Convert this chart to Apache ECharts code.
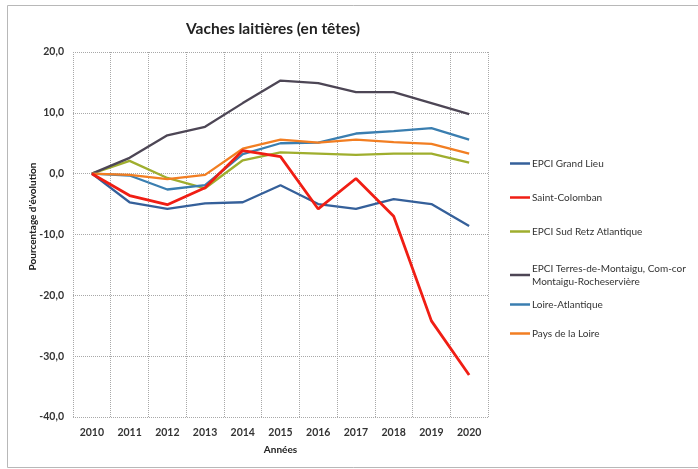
<!DOCTYPE html>
<html>
<head>
<meta charset="utf-8">
<script src="https://cdn.jsdelivr.net/npm/echarts@6/dist/echarts.min.js"></script>
<style>html,body{margin:0;padding:0;background:#fff}#c{width:698px;height:469px}</style>
</head>
<body>
<div id="c"></div>
<script>
var years = ['2010','2011','2012','2013','2014','2015','2016','2017','2018','2019','2020'];
var grandLieu = [0, -4.7, -5.8, -4.9, -4.7, -1.9, -5.0, -5.8, -4.2, -5.0, -8.6];
var saintColomban = [0, -3.6, -5.1, -2.3, 3.8, 2.8, -5.8, -0.8, -7.0, -24.2, -33.1];
var sudRetz = [0, 2.1, -0.7, -2.4, 2.2, 3.5, 3.3, 3.1, 3.3, 3.3, 1.8];
var terresMontaigu = [0, 2.6, 6.3, 7.7, 11.6, 15.3, 14.9, 13.4, 13.4, 11.6, 9.8];
var loireAtlantique = [0, -0.3, -2.6, -1.9, 3.2, 5.0, 5.1, 6.6, 7.0, 7.5, 5.6];
var paysLoire = [0, -0.2, -0.9, -0.2, 4.1, 5.6, 5.1, 5.6, 5.2, 4.9, 3.3];
var yTicks = [20, 10, 0, -10, -20, -30, -40];

var names = ['EPCI Grand Lieu','Saint-Colomban','EPCI Sud Retz Atlantique','EPCI Terres-de-Montaigu, Com-cor\nMontaigu-Rocheservière','Loire-Atlantique','Pays de la Loire'];
var datas = [grandLieu, saintColomban, sudRetz, terresMontaigu, loireAtlantique, paysLoire];
var colors = ['#35609a','#f01e14','#9fae2e','#4d4655','#3a7eb0','#f27e22'];
var widths = [2.3, 2.8, 2.3, 2.3, 2.3, 2.3];
var legTops = [152, 186, 220, 257, 293, 322];

var font = 'Lato, "Open Sans", sans-serif';
var chart = echarts.init(document.getElementById('c'), null, {renderer:'canvas'});
chart.setOption({
  animation: false,
  backgroundColor: '#ffffff',
  textStyle: {fontFamily: font},
  title: {
    text: 'Vaches laitières (en têtes)',
    left: 268, top: 16, textAlign: 'center',
    textStyle: {fontSize: 15.5, fontWeight: 'bold', color: '#222', fontFamily: font}
  },
  graphic: [{
    type: 'rect', shape: {x: 7.5, y: 5.5, width: 720, height: 462},
    style: {fill: 'none', stroke: '#b8b8b8', lineWidth: 1}, silent: true
  }],
  legend: names.map(function(n, i){
    return {
      data: [n], left: 505, top: legTops[i], orient: 'vertical',
      icon: 'rect', itemWidth: 20, itemHeight: 2.5, itemGap: 0,
      textStyle: {fontSize: 10, color: '#333', fontFamily: font, lineHeight: 13, padding:[0,0,0,-3]}
    };
  }),
  grid: {left: 73, right: 210, top: 52, bottom: 52, containLabel: false},
  xAxis: {
    type: 'category', data: years, boundaryGap: true,
    name: 'Années', nameLocation: 'middle', nameGap: 28, nameMoveOverlap: false,
    nameTextStyle: {fontSize: 10, fontWeight: 'bold', color: '#222', fontFamily: font},
    axisLine: {show: false}, axisTick: {show: false},
    axisLabel: {fontSize: 10.5, color: '#333', fontWeight: 'bold', margin: 10, interval: 0, fontFamily: font},
    splitLine: {show: true, interval: 0, lineStyle: {color: '#a8a8a8', type: 'dotted', width: 1}}
  },
  yAxis: {
    type: 'value', min: -40, max: 20, interval: 10,
    name: "Pourcentage d'évolution", nameLocation: 'middle', nameGap: 35, nameRotate: 90, nameMoveOverlap: false,
    nameTextStyle: {fontSize: 10, fontWeight: 'bold', color: '#222', fontFamily: font, padding: [0, 0, 0, 36]},
    axisLine: {show: false}, axisTick: {show: false},
    axisLabel: {fontSize: 10.5, color: '#333', fontWeight: 'bold', margin: 9, fontFamily: font,
      formatter: function(v){ return v.toFixed(1).replace('.', ','); }},
    splitLine: {show: true, lineStyle: {color: '#a8a8a8', type: 'dotted', width: 1}}
  },
  series: names.map(function(n, i){
    return {
      name: n, type: 'line', data: datas[i], symbol: 'none',
      lineStyle: {color: colors[i], width: widths[i]}, itemStyle: {color: colors[i]},
      z: i === 1 ? 10 : 2
    };
  })
});
</script>
</body>
</html>
